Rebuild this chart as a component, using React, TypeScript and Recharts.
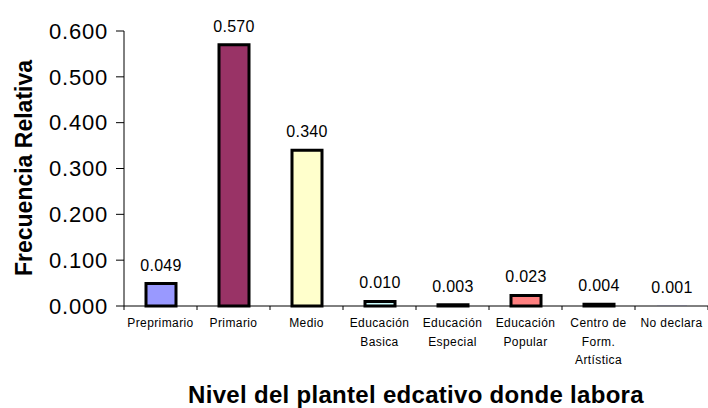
import { BarChart, Bar, XAxis, YAxis, Cell, LabelList } from 'recharts'

const categories = [
  'Preprimario',
  'Primario',
  'Medio',
  'Educación\nBasica',
  'Educación\nEspecial',
  'Educación\nPopular',
  'Centro de\nForm.\nArtística',
  'No declara',
]
const frecuencia = [0.049, 0.57, 0.34, 0.01, 0.003, 0.023, 0.004, 0.001]
const barColors = ['#9999FF', '#993366', '#FFFFCC', '#CCFFFF', '#660066', '#FF8080', '#0066CC', '#CCCCFF']
const yTicks = [0, 0.1, 0.2, 0.3, 0.4, 0.5, 0.6]

const FONT = '"Liberation Sans", Arial, sans-serif'
const W = 708
const H = 408
const LEFT = 124
const BAND = (W - LEFT) / categories.length

const data = categories.map((name, i) => ({ name, value: frecuencia[i] }))

function CategoryTick(props: any) {
  const { x, y, payload, index } = props
  const lines = String(payload.value).split('\n')
  const half = BAND / 2
  return (
    <g>
      <line x1={x - half} x2={x - half} y1={y} y2={y + 4} stroke="#000" />
      {index === categories.length - 1 && (
        <line x1={x + half} x2={x + half} y1={y} y2={y + 4} stroke="#000" />
      )}
      <text
        x={x}
        y={y + 21}
        textAnchor="middle"
        fontSize={12}
        letterSpacing={0.4}
        fontFamily={FONT}
        fill="#000"
      >
        {lines.map((l, i) => (
          <tspan key={i} x={x} dy={i === 0 ? 0 : 18.5}>
            {l}
          </tspan>
        ))}
      </text>
    </g>
  )
}

function YTitle() {
  return (
    <text
      transform="translate(32,168) rotate(-90)"
      textAnchor="middle"
      fontSize={23}
      fontWeight="bold"
      fontFamily={FONT}
      fill="#000"
    >
      Frecuencia Relativa
    </text>
  )
}

export default function App() {
  return (
    <div style={{ position: 'absolute', left: 0, top: 0, width: W, height: H, background: '#fff' }}>
      <BarChart width={W} height={H} data={data} margin={{ top: 31, right: 0, bottom: 0, left: 0 }}>
        <XAxis
          dataKey="name"
          interval={0}
          tickLine={false}
          tickSize={0}
          tickMargin={0}
          height={102}
          axisLine={{ stroke: '#000' }}
          tick={<CategoryTick />}
          label={{
            value: 'Nivel del plantel edcativo donde labora',
            position: 'insideBottom',
            offset: 5,
            fontSize: 24,
            fontWeight: 'bold',
            letterSpacing: 0.3,
            fontFamily: FONT,
            fill: '#000',
          }}
        />
        <YAxis
          width={LEFT}
          domain={[0, 0.6]}
          ticks={yTicks}
          interval={0}
          tickSize={8}
          tickMargin={8}
          tickFormatter={(v: number) => v.toFixed(3)}
          tick={{ fontSize: 22, fill: '#000', fontFamily: FONT, letterSpacing: 0.8 }}
          axisLine={{ stroke: '#000' }}
          tickLine={{ stroke: '#000' }}
          label={{ content: <YTitle /> }}
        />
        <Bar dataKey="value" barSize={30} stroke="#000" strokeWidth={3} isAnimationActive={false}>
          {data.map((d, i) => (
            // bars under a pixel tall are not outlined in the original
            <Cell key={d.name} fill={barColors[i]} stroke={d.value < 0.002 ? 'none' : '#000'} />
          ))}
          <LabelList
            dataKey="value"
            position="top"
            offset={13}
            formatter={(v: any) => Number(v).toFixed(3)}
            style={{ fontSize: 16, fill: '#000', fontFamily: FONT, letterSpacing: 0.3 }}
          />
        </Bar>
      </BarChart>
    </div>
  )
}
